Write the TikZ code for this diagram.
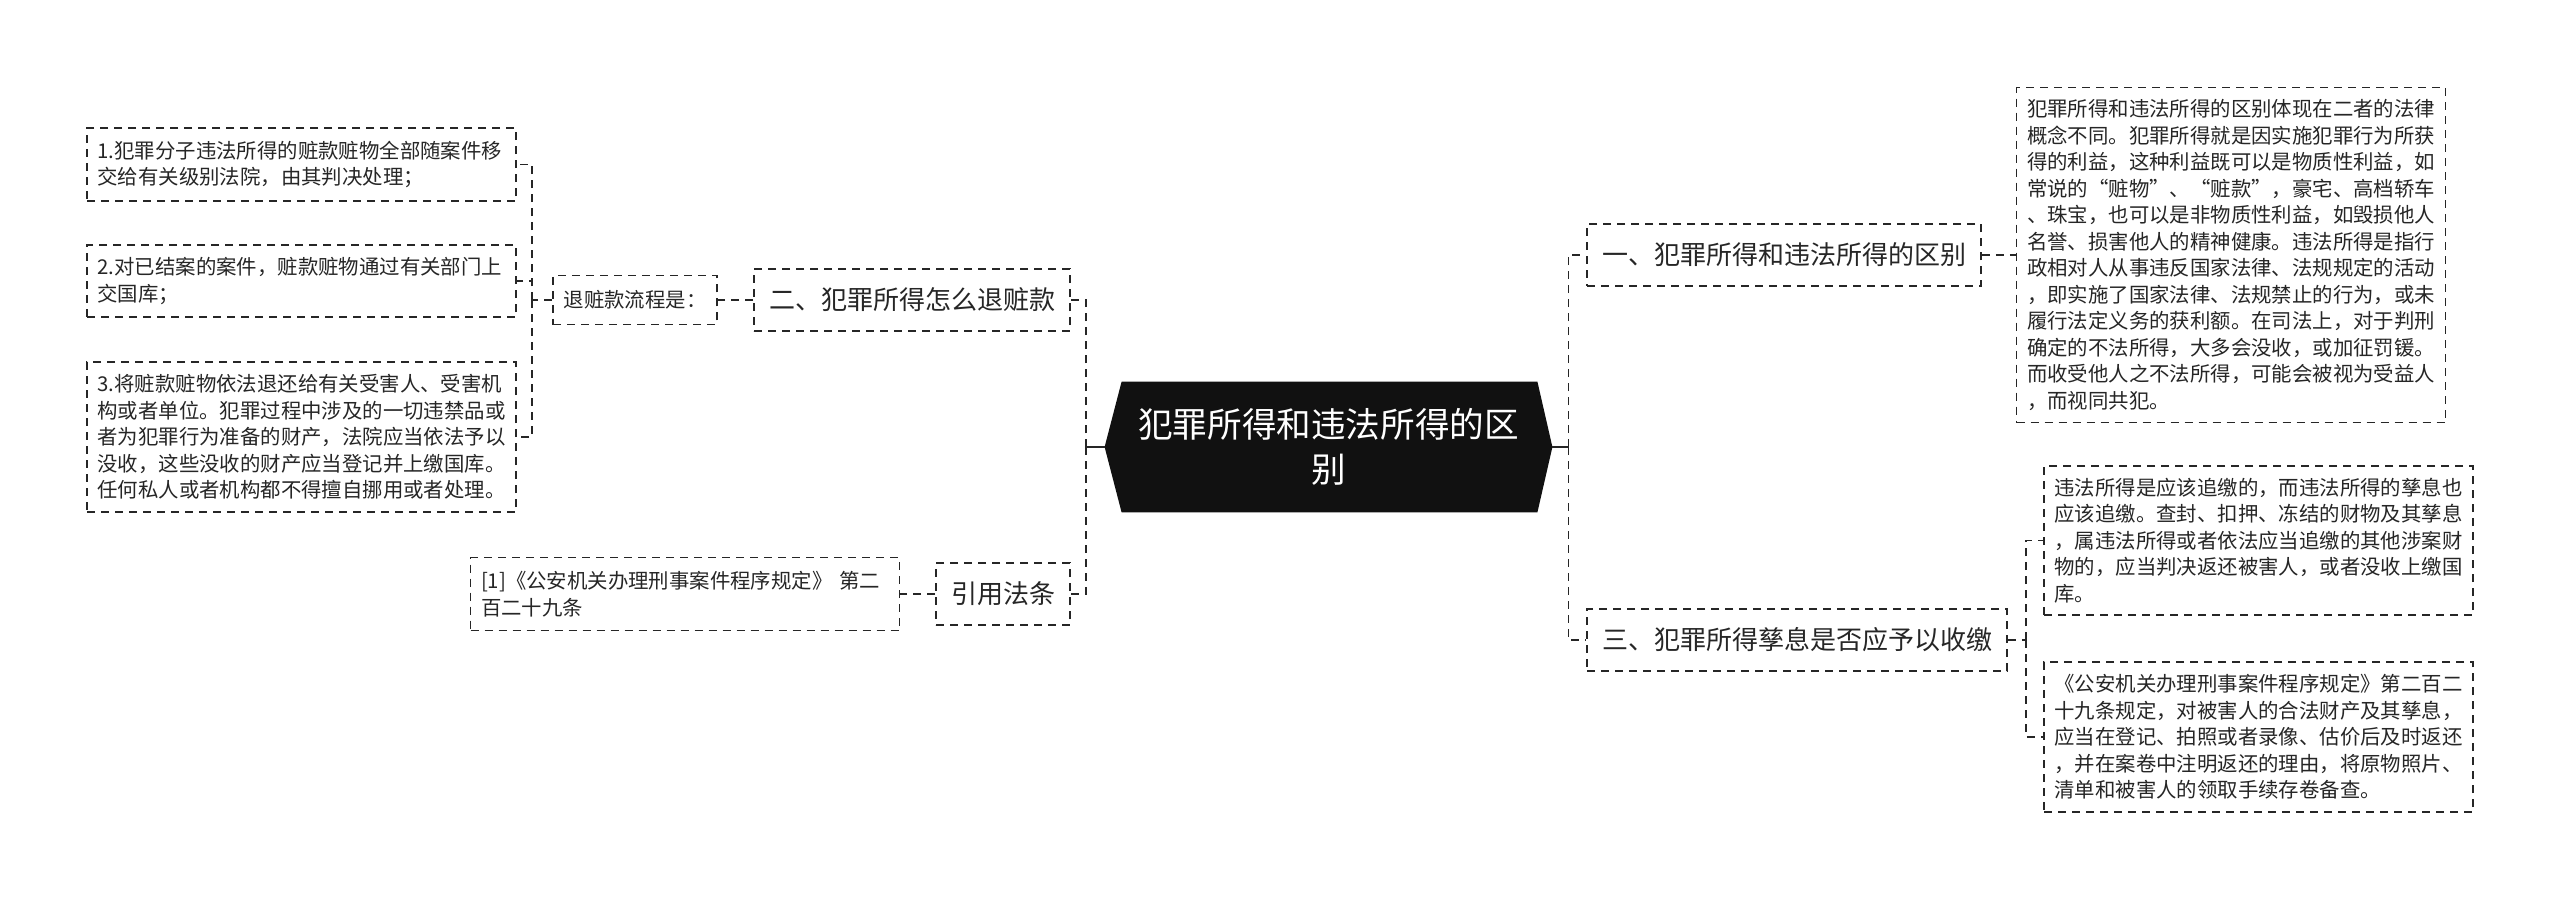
\documentclass[tikz,border=0pt]{standalone}
\usepackage{fontspec}
\setmainfont{Noto Sans CJK SC}
\usepackage{tikz}
\usetikzlibrary{calc,backgrounds}
\definecolor{ink}{HTML}{262626}
\definecolor{rootfill}{HTML}{111111}

\begin{document}
\begin{tikzpicture}[x=0.5pt,y=-0.5pt,
  dbox/.style={draw=ink,line width=0.9pt,dash pattern=on 4pt off 3pt,text=ink},
  topic/.style={dbox,inner xsep=7.5pt,inner ysep=0pt,minimum height=31pt,
    font=\fontsize{13pt}{16pt}\selectfont},
  leaf/.style={dbox,text width=204pt,align=left,inner xsep=5.25pt,inner ysep=0pt,
    font=\fontsize{10.2pt}{13.25pt}\selectfont},
  link/.style={draw=ink,line width=0.9pt,dash pattern=on 4pt off 3pt}]
  \useasboundingbox (0,0) rectangle (2560,900);

  % 中心
  \node[text=white,align=center,minimum width=223.5pt,minimum height=65pt,inner sep=0pt,
    font=\fontsize{17.3pt}{22.5pt}\selectfont] (root) at (1328.5,447) {犯罪所得和违法所得的区\\别};
  \begin{scope}[on background layer]
    \fill[white] (0,0) rectangle (2560,900);
    \fill[rootfill] (root.west) -- ($(root.north west)+(17,0)$) -- ($(root.north east)+(-15,0)$)
      -- (root.east) -- ($(root.south east)+(-15,0)$) -- ($(root.south west)+(17,0)$) -- cycle;
  \end{scope}

  % 右侧
  \node[topic] (c1) at (1784,255) {一、犯罪所得和违法所得的区别};
  \node[topic] (c3) at (1797,640) {三、犯罪所得孳息是否应予以收缴};
  \node[leaf,minimum height=167.5pt] (leafA) at (2231,255) {犯罪所得和违法所得的区别体现在二者的法律\\概念不同。犯罪所得就是因实施犯罪行为所获\\得的利益，这种利益既可以是物质性利益，如\\常说的“赃物”、“赃款”，豪宅、高档轿车\\、珠宝，也可以是非物质性利益，如毁损他人\\名誉、损害他人的精神健康。违法所得是指行\\政相对人从事违反国家法律、法规规定的活动\\，即实施了国家法律、法规禁止的行为，或未\\履行法定义务的获利额。在司法上，对于判刑\\确定的不法所得，大多会没收，或加征罚锾。\\而收受他人之不法所得，可能会被视为受益人\\，而视同共犯。};
  \node[leaf,minimum height=74.5pt] (leafB) at (2258.5,540.5) {违法所得是应该追缴的，而违法所得的孳息也\\应该追缴。查封、扣押、冻结的财物及其孳息\\，属违法所得或者依法应当追缴的其他涉案财\\物的，应当判决返还被害人，或者没收上缴国\\库。};
  \node[leaf,minimum height=75pt] (leafC) at (2258.5,737) {《公安机关办理刑事案件程序规定》第二百二\\十九条规定，对被害人的合法财产及其孳息，\\应当在登记、拍照或者录像、估价后及时返还\\，并在案卷中注明返还的理由，将原物照片、\\清单和被害人的领取手续存卷备查。};

  % 左侧
  \node[topic] (c2) at (912,300) {二、犯罪所得怎么退赃款};
  \node[topic] (c4) at (1003,594) {引用法条};
  \node[dbox,inner xsep=5.25pt,inner ysep=0pt,minimum height=24.5pt,
    font=\fontsize{10.2pt}{13.25pt}\selectfont] (flow) at (635,300) {退赃款流程是：};
  \node[leaf,minimum height=36.5pt] (L1) at (301.5,164.5) {1.犯罪分子违法所得的赃款赃物全部随案件移\\交给有关级别法院，由其判决处理；};
  \node[leaf,minimum height=36pt] (L2) at (301.5,281) {2.对已结案的案件，赃款赃物通过有关部门上\\交国库；};
  \node[leaf,minimum height=75pt] (L3) at (301.5,437) {3.将赃款赃物依法退还给有关受害人、受害机\\构或者单位。犯罪过程中涉及的一切违禁品或\\者为犯罪行为准备的财产，法院应当依法予以\\没收，这些没收的财产应当登记并上缴国库。\\任何私人或者机构都不得擅自挪用或者处理。};
  \node[leaf,minimum height=36.5pt] (ref1) at (685,594) {[1]《公安机关办理刑事案件程序规定》 第二\\百二十九条};

  % 连线
  \coordinate (rs) at ($(root.east)+(16,0)$);
  \coordinate (ls) at ($(root.west)+(-19,0)$);
  \draw[ink,line width=0.9pt] (root.east) -- (rs);
  \draw[ink,line width=0.9pt] (root.west) -- (ls);
  \draw[link] (rs) |- (c1.west);
  \draw[link] (rs) |- (c3.west);
  \draw[link] (ls) |- (c2.east);
  \draw[link] (ls) |- (c4.east);
  \draw[link] (c1.east) -- (leafA.west);
  \coordinate (c3s) at ($(c3.east)+(18,0)$);
  \draw[link] (c3.east) -- (c3s);
  \draw[link] (c3s) |- (leafB.west);
  \draw[link] (c3s) |- (leafC.west);
  \draw[link] (c2.west) -- (flow.east);
  \coordinate (fs) at ($(flow.west)+(-20,0)$);
  \draw[link] (flow.west) -- (fs);
  \draw[link] (fs) |- (L1.east);
  \draw[link] (fs) |- (L2.east);
  \draw[link] (fs) |- (L3.east);
  \draw[link] (c4.west) -- (ref1.east);
\end{tikzpicture}
\end{document}
